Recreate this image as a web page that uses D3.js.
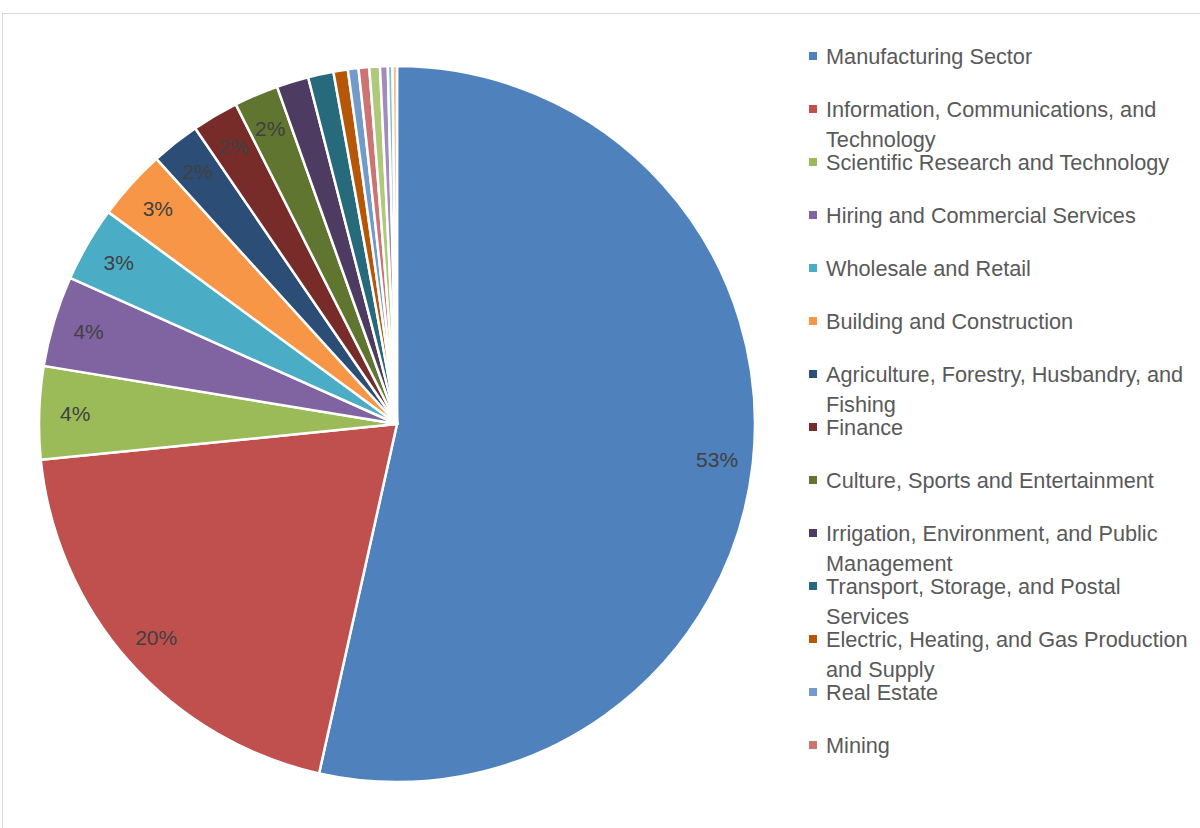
<!DOCTYPE html>
<html lang="en">
<head>
    <meta charset="UTF-8">
    <title>Sector Pie</title>
    <script src="https://d3js.org/d3.v7.min.js"></script>
</head>
<style>
    body { margin: 0; background: #fff; }
    .pct { font-family: "Liberation Sans", Arial, sans-serif; font-size: 21px; fill: #404040; text-anchor: middle; }
    .legend text { font-family: "Liberation Sans", Arial, sans-serif; font-size: 21.7px; fill: #595959; }
</style>
<body>
    <svg class="chart"></svg>
    <script>
        const svgW = 1200;
        const svgH = 828;

        // sectors, in drawing order (clockwise from 12 o'clock)
        const sectors = [
            "Manufacturing Sector",
            "Information, Communications, and Technology",
            "Scientific Research and Technology",
            "Hiring and Commercial Services",
            "Wholesale and Retail",
            "Building and Construction",
            "Agriculture, Forestry, Husbandry, and Fishing",
            "Finance",
            "Culture, Sports and Entertainment",
            "Irrigation, Environment, and Public Management",
            "Transport, Storage, and Postal Services",
            "Electric, Heating, and Gas Production and Supply",
            "Real Estate",
            "Mining",
            "Education",
            "Health and Social Work",
            "Accommodation and Catering",
            "Public Administration"
        ];
        // share of total, percent
        const shares = [53.6, 19.95, 4.2, 4.1, 3.4, 3.2, 2.2, 2.1, 2.0, 1.45, 1.15, 0.65, 0.48, 0.48, 0.48, 0.35, 0.21, 0.2];
        const colors = [
            "#4F81BD", "#C0504D", "#9BBB59", "#8064A2", "#4BACC6", "#F79646",
            "#2C4D75", "#772C2A", "#5F7530", "#4D3B62", "#276A7C", "#B65708",
            "#729ACA", "#CD7371", "#AFC97A", "#A18CBB", "#7CC4D8", "#F9B884"
        ];
        // the legend box only has room for the first 14 entries
        const legendCount = 14;

        const svg = d3.select(".chart")
            .attr("width", svgW)
            .attr("height", svgH);

        // chart area border
        svg.append("rect")
            .attr("x", 2.5).attr("y", 13.5)
            .attr("width", 1300).attr("height", 900)
            .attr("fill", "none")
            .attr("stroke", "#d9d9d9");

        const cx = 397, cy = 424, radius = 358;
        const data = sectors.map((name, i) => ({ name, value: shares[i], color: colors[i] }));

        const pie = d3.pie().sort(null).value(d => d.value);
        const arc = d3.arc().innerRadius(0).outerRadius(radius);
        const labelArc = d3.arc().innerRadius(322).outerRadius(322);
        const total = d3.sum(shares);

        const g = svg.append("g").attr("transform", `translate(${cx},${cy})`);
        const arcs = pie(data);

        g.selectAll("path")
            .data(arcs)
            .join("path")
            .attr("d", arc)
            .attr("fill", d => d.data.color)
            .attr("stroke", "#fff")
            .attr("stroke-width", 2.5)
            .attr("stroke-linejoin", "round");

        // percent labels only where they fit
        g.selectAll("text")
            .data(arcs.filter(d => d.data.value >= 1.95))
            .join("text")
            .attr("class", "pct")
            .attr("transform", d => `translate(${labelArc.centroid(d)})`)
            .attr("dy", "0.36em")
            .text(d => Math.round(d.data.value / total * 100) + "%");

        // legend
        const legend = svg.append("g").attr("class", "legend");
        const maxW = 368;
        data.slice(0, legendCount).forEach((d, i) => {
            const y = 56 + i * 53;
            legend.append("rect")
                .attr("x", 809).attr("y", y - 4)
                .attr("width", 8).attr("height", 8)
                .attr("fill", d.color);
            const t = legend.append("text")
                .attr("x", 826).attr("y", y)
                .attr("dy", "0.36em");
            // wrap into lines
            const words = d.name.split(" ");
            let line = [];
            let tspan = t.append("tspan").attr("x", 826);
            words.forEach(w => {
                line.push(w);
                tspan.text(line.join(" "));
                if (tspan.node().getComputedTextLength() > maxW && line.length > 1) {
                    line.pop();
                    tspan.text(line.join(" "));
                    line = [w];
                    tspan = t.append("tspan").attr("x", 826).attr("dy", 30).text(w);
                }
            });
        });
    </script>
</body>
</html>
